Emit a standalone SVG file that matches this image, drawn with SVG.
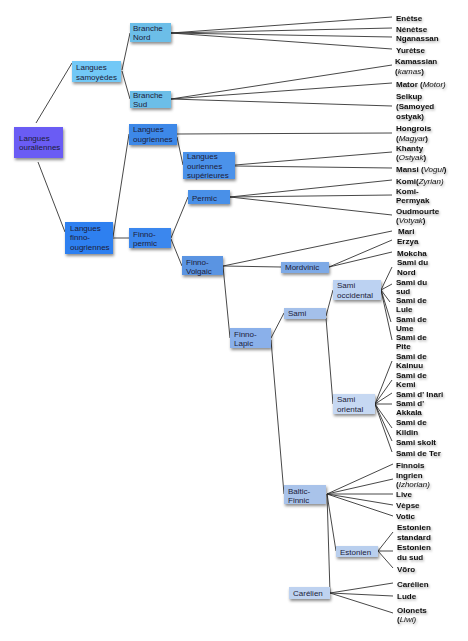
<svg xmlns="http://www.w3.org/2000/svg" width="468" height="641" viewBox="0 0 468 641">
<defs>
<filter id="sh" x="-20%" y="-30%" width="150%" height="180%">
<feDropShadow dx="1" dy="2" stdDeviation="1.5" flood-color="#000" flood-opacity="0.45"/>
</filter>
<filter id="tsh" x="-10%" y="-40%" width="130%" height="200%">
<feDropShadow dx="1" dy="1.5" stdDeviation="1" flood-color="#000" flood-opacity="0.35"/>
</filter>
<style>
.n rect{filter:url(#sh);stroke:none}
.n text{font-family:"Liberation Sans",Arial,sans-serif;font-size:8px;fill:#1c1c3a}
.l text{font-family:"Liberation Sans",Arial,sans-serif;font-size:8px;font-weight:bold;fill:#111;filter:url(#tsh)}
.l text tspan.i{font-style:italic;font-weight:normal}
#connectors line{stroke:#333;stroke-width:0.9;fill:none}
</style>
</defs>
<rect width="468" height="641" fill="#fff"/>

<g id="connectors">
<line x1="36" y1="123" x2="72" y2="63"/>
<line x1="38" y1="162" x2="65" y2="232"/>
<line x1="122" y1="70" x2="130" y2="33"/>
<line x1="122" y1="71" x2="130" y2="99"/>
<line x1="171" y1="33" x2="392" y2="17"/>
<line x1="171" y1="33" x2="392" y2="28"/>
<line x1="171" y1="33" x2="392" y2="37"/>
<line x1="171" y1="33" x2="392" y2="49"/>
<line x1="171" y1="99" x2="392" y2="65"/>
<line x1="171" y1="99" x2="392" y2="83"/>
<line x1="171" y1="99" x2="392" y2="106"/>
<line x1="113" y1="237" x2="129" y2="134"/>
<line x1="113" y1="238" x2="129" y2="238"/>
<line x1="177" y1="134" x2="392" y2="133"/>
<line x1="177" y1="137" x2="183" y2="165"/>
<line x1="235" y1="165" x2="392" y2="152"/>
<line x1="235" y1="166" x2="392" y2="168"/>
<line x1="171" y1="238" x2="188" y2="197"/>
<line x1="171" y1="239" x2="182" y2="266"/>
<line x1="230" y1="197" x2="392" y2="180"/>
<line x1="230" y1="197" x2="392" y2="195"/>
<line x1="230" y1="197" x2="392" y2="215"/>
<line x1="223" y1="266" x2="392" y2="231"/>
<line x1="223" y1="266" x2="281" y2="267"/>
<line x1="223" y1="266" x2="230" y2="338"/>
<line x1="329" y1="267" x2="392" y2="240"/>
<line x1="329" y1="267" x2="392" y2="252"/>
<line x1="271" y1="338" x2="284" y2="313"/>
<line x1="271" y1="340" x2="284" y2="494"/>
<line x1="326" y1="316" x2="333" y2="290"/>
<line x1="326" y1="318" x2="333" y2="404"/>
<line x1="381" y1="290" x2="392" y2="267"/>
<line x1="381" y1="290" x2="392" y2="284"/>
<line x1="381" y1="290" x2="390" y2="302"/>
<line x1="381" y1="290" x2="391" y2="322"/>
<line x1="381" y1="290" x2="392" y2="340"/>
<line x1="375" y1="404" x2="392" y2="361"/>
<line x1="375" y1="404" x2="392" y2="380"/>
<line x1="375" y1="404" x2="392" y2="393"/>
<line x1="375" y1="404" x2="392" y2="404"/>
<line x1="375" y1="404" x2="392" y2="428"/>
<line x1="375" y1="404" x2="392" y2="441"/>
<line x1="375" y1="404" x2="392" y2="452"/>
<line x1="327" y1="494" x2="393" y2="464"/>
<line x1="327" y1="494" x2="393" y2="479"/>
<line x1="327" y1="494" x2="393" y2="494"/>
<line x1="327" y1="494" x2="393" y2="505"/>
<line x1="327" y1="494" x2="393" y2="516"/>
<line x1="327" y1="494" x2="336" y2="551"/>
<line x1="327" y1="494" x2="330" y2="593"/>
<line x1="378" y1="551" x2="393" y2="532"/>
<line x1="378" y1="551" x2="393" y2="551"/>
<line x1="378" y1="551" x2="393" y2="568"/>
<line x1="330" y1="593" x2="393" y2="583"/>
<line x1="330" y1="593" x2="393" y2="596"/>
<line x1="330" y1="593" x2="393" y2="613"/>
</g>

<g id="n-ouraliennes" class="n"><rect x="14" y="127" width="49" height="31" fill="#6a5cf4"/><text x="19" y="141">Langues</text><text x="19" y="150">ouraliennes</text></g>
<g id="n-samoyedes" class="n"><rect x="72" y="61" width="49" height="21" fill="#72c8f6"/><text x="76" y="70">Langues</text><text x="76" y="80">samoyèdes</text></g>
<g id="n-branche-nord" class="n"><rect x="130" y="23" width="41" height="19" fill="#6cbee8"/><text x="133" y="31">Branche</text><text x="133" y="40">Nord</text></g>
<g id="n-branche-sud" class="n"><rect x="130" y="91" width="41" height="17" fill="#6cbee8"/><text x="133" y="98">Branche</text><text x="133" y="107">Sud</text></g>
<g id="n-ougriennes" class="n"><rect x="129" y="124" width="48" height="21" fill="#3d88e8"/><text x="133" y="132">Langues</text><text x="133" y="142">ougriennes</text></g>
<g id="n-superieures" class="n"><rect x="183" y="152" width="52" height="27" fill="#4b92ea"/><text x="187" y="159">Langues</text><text x="187" y="168.5">ouriennes</text><text x="187" y="177.5">supérieures</text></g>
<g id="n-permic" class="n"><rect x="188" y="190" width="42" height="14" fill="#4a90e8"/><text x="192" y="200.5">Permic</text></g>
<g id="n-finno-ougriennes" class="n"><rect x="65" y="222" width="48" height="32" fill="#2f80f0"/><text x="70" y="231">Langues</text><text x="70" y="240">finno-</text><text x="70" y="250">ougriennes</text></g>
<g id="n-finno-permic" class="n"><rect x="129" y="228" width="42" height="20" fill="#3a87ee"/><text x="133" y="237">Finno-</text><text x="133" y="246">permic</text></g>
<g id="n-finno-volgaic" class="n"><rect x="182" y="256" width="41" height="19" fill="#5a94e2"/><text x="186" y="265">Finno-</text><text x="186" y="274">Volgaic</text></g>
<g id="n-mordvinic" class="n"><rect x="281" y="262" width="48" height="11" fill="#7eaae6"/><text x="285" y="270">Mordvinic</text></g>
<g id="n-sami-occidental" class="n"><rect x="333" y="280" width="48" height="20" fill="#bcd2f2"/><text x="337" y="288">Sami</text><text x="337" y="298">occidental</text></g>
<g id="n-sami" class="n"><rect x="284" y="308" width="42" height="11" fill="#a4c0ea"/><text x="288" y="316">Sami</text></g>
<g id="n-finno-lapic" class="n"><rect x="230" y="328" width="41" height="20" fill="#8ab0ea"/><text x="234" y="337">Finno-</text><text x="234" y="346">Lapic</text></g>
<g id="n-sami-oriental" class="n"><rect x="333" y="394" width="42" height="20" fill="#c6d8f2"/><text x="337" y="402">Sami</text><text x="337" y="412">oriental</text></g>
<g id="n-baltic-finnic" class="n"><rect x="284" y="485" width="42" height="19" fill="#a9c3ea"/><text x="288" y="494">Baltic-</text><text x="288" y="503">Finnic</text></g>
<g id="n-estonien" class="n"><rect x="336" y="546" width="42" height="11" fill="#b9cfee"/><text x="340" y="554.5">Estonien</text></g>
<g id="n-carelien" class="n"><rect x="289" y="587" width="41" height="12" fill="#bed2f0"/><text x="293" y="596">Carélien</text></g>

<g id="leaves" class="l">
<text x="396" y="21">Enètse</text>
<text x="396" y="32">Nénètse</text>
<text x="396" y="41">Nganassan</text>
<text x="396" y="53">Yurètse</text>
<text x="395" y="64">Kamassian</text>
<text x="395" y="74">(<tspan class="i">kamas</tspan>)</text>
<text x="396" y="87">Mator (<tspan class="i">Motor)</tspan></text>
<text x="396" y="99">Selkup</text>
<text x="396" y="108.5">(Samoyed</text>
<text x="396" y="119">ostyak)</text>
<text x="396" y="131">Hongrois</text>
<text x="396" y="141">(<tspan class="i">Magyar</tspan>)</text>
<text x="396" y="151">Khanty</text>
<text x="396" y="160">(<tspan class="i">Ostyak</tspan>)</text>
<text x="396" y="172">Mansi (<tspan class="i">Vogul</tspan>)</text>
<text x="396" y="184">Komi(<tspan class="i">Zyrian)</tspan></text>
<text x="396" y="194">Komi-</text>
<text x="396" y="203">Permyak</text>
<text x="396" y="214">Oudmourte</text>
<text x="396" y="223">(<tspan class="i">Votyak</tspan>)</text>
<text x="398" y="234">Mari</text>
<text x="397" y="244">Erzya</text>
<text x="397" y="256">Mokcha</text>
<text x="397" y="265">Sami du</text>
<text x="397" y="275">Nord</text>
<text x="396" y="285">Sami du</text>
<text x="396" y="294">sud</text>
<text x="396" y="303">Sami de</text>
<text x="396" y="312">Lule</text>
<text x="396" y="322">Sami de</text>
<text x="396" y="331">Ume</text>
<text x="396" y="340">Sami de</text>
<text x="396" y="349">Pite</text>
<text x="396" y="359">Sami de</text>
<text x="396" y="368">Kainuu</text>
<text x="396" y="378">Sami de</text>
<text x="396" y="387">Kemi</text>
<text x="396" y="397">Sami d' Inari</text>
<text x="396" y="406">Sami d'</text>
<text x="396" y="415">Akkala</text>
<text x="396" y="425">Sami de</text>
<text x="396" y="435">Kildin</text>
<text x="396" y="445">Sami skolt</text>
<text x="396" y="456">Sami de Ter</text>
<text x="396" y="468">Finnois</text>
<text x="396" y="478">Ingrien</text>
<text x="396" y="487">(<tspan class="i">Izhorian)</tspan></text>
<text x="396" y="497">Live</text>
<text x="396" y="508">Vèpse</text>
<text x="396" y="519">Votic</text>
<text x="397" y="530">Estonien</text>
<text x="397" y="540">standard</text>
<text x="397" y="550">Estonien</text>
<text x="397" y="560">du sud</text>
<text x="397" y="572">Võro</text>
<text x="397" y="587">Carélien</text>
<text x="397" y="599">Lude</text>
<text x="397" y="613">Olonets</text>
<text x="397" y="622">(<tspan class="i">Liwi)</tspan></text>
</g>
</svg>
